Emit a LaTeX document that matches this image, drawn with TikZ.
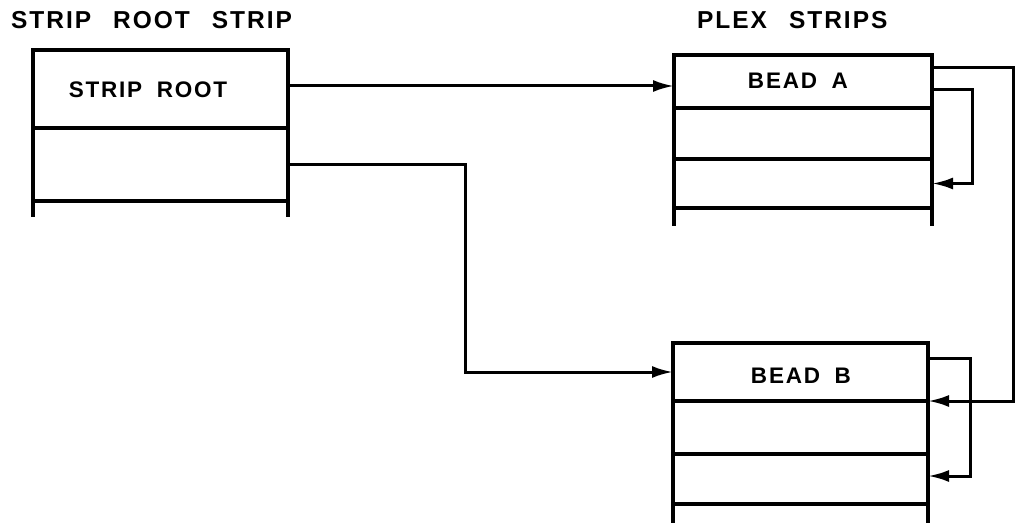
\documentclass[tikz,border=0pt]{standalone}
\usepackage{fontspec}
\setmainfont{Liberation Sans}[LetterSpace=8]
\usetikzlibrary{arrows.meta,calc}
\newcommand{\wgap}{\hspace{0.9em}}
\newcommand{\igap}{\hspace{0.65em}}
\begin{document}
\begin{tikzpicture}[x=1pt,y=-1pt,
  field/.style={draw, line width=3.5pt, inner sep=0pt, outer sep=0pt, anchor=north west},
  lbl/.style={inner sep=0pt, font=\bfseries\fontsize{22.5}{22.5}\selectfont},
  title/.style={anchor=base west, inner sep=0pt,
    font=\bfseries\fontsize{24.5}{24.5}\selectfont},
  link/.style={line width=3pt, line join=miter},
  tip/.style={arrows={-Latex[length=21pt,width=12pt]}},
  leg/.style={line width=3.5pt}]
\useasboundingbox (0,0) rectangle (1016,526);

% titles
\node[title] (t1) at (11,29) {STRIP\wgap ROOT\wgap STRIP};
\node[title] (t2) at (697,29) {PLEX\wgap STRIPS};

% strip root strip
\node[field, minimum width=255, minimum height=78] (r1) at (33,50) {};
\node[lbl] (r1t) at (148,90) {STRIP\igap ROOT};
\node[field, minimum width=255, minimum height=73] (r2) at (r1.south west) {};
\draw[leg] (r2.south west) -- ++(0,16);
\draw[leg] (r2.south east) -- ++(0,16);

% bead A
\node[field, minimum width=258, minimum height=53] (a1) at (674,55) {};
\node[lbl] (a1t) at (798,81) {BEAD\igap A};
\node[field, minimum width=258, minimum height=51] (a2) at (a1.south west) {};
\node[field, minimum width=258, minimum height=49] (a3) at (a2.south west) {};
\draw[leg] (a3.south west) -- ++(0,18);
\draw[leg] (a3.south east) -- ++(0,18);

% bead B
\node[field, minimum width=255, minimum height=58] (b1) at (673,343) {};
\node[lbl] (b1t) at (801,376) {BEAD\igap B};
\node[field, minimum width=255, minimum height=53] (b2) at (b1.south west) {};
\node[field, minimum width=255, minimum height=50] (b3) at (b2.south west) {};
\draw[leg] (b3.south west) -- ++(0,19);
\draw[leg] (b3.south east) -- ++(0,19);

% routing coordinates
\coordinate (j1) at (465,0);
\coordinate (la) at (972,0);
\coordinate (lb) at (970,0);
\coordinate (ro) at (1013,0);
\coordinate (e3) at ($(b3.east)+(0,-3)$);

% connectors
\draw[link,tip] ($(r1.east)+(0,-3)$) coordinate (s0) -- (s0 -| a1.west);
\draw[link,tip] (r2.east) -- (r2.east -| j1) -- (j1 |- b1.west) -- (b1.west);
\draw[link,tip] ($(a1.east)+(0,8.5)$) coordinate (s1) -- (s1 -| la) -- (la |- a3.east) -- (a3.east);
\draw[link,tip] ($(a1.east)+(0,-13.5)$) coordinate (s2) -- (s2 -| ro) -- (ro |- b1.south east) -- (b1.south east);
\draw[link,tip] ($(b1.east)+(0,-14)$) coordinate (s3) -- (s3 -| lb) -- (lb |- e3) -- (e3);
\end{tikzpicture}
\end{document}
